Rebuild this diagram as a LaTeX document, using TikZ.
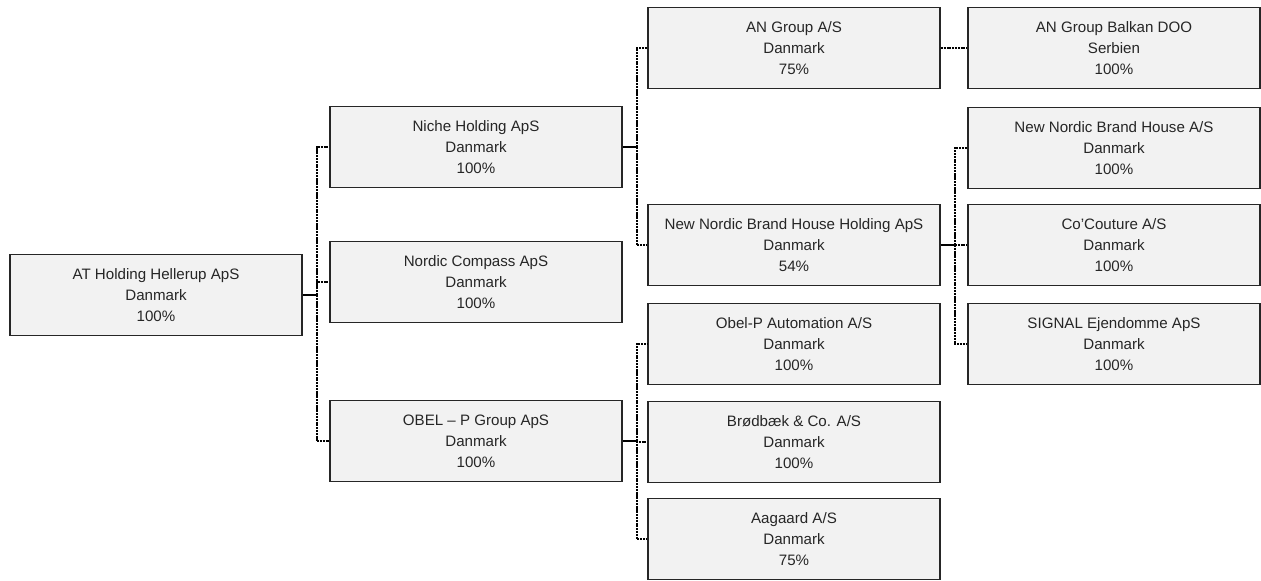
\documentclass[tikz,border=0pt]{standalone}
\usepackage{fontspec}
\setmainfont{Liberation Sans}
\usepackage{tikz}
\usetikzlibrary{positioning,calc}
\definecolor{boxfill}{HTML}{F2F2F2}
\tikzset{>=latex}
\tikzset{
  company/.style={draw=black!85,line width=1pt,fill=boxfill,minimum width=5.84cm,
    minimum height=1.62cm,align=center,text=black!85,font=\fontsize{8.6}{12}\selectfont},
  link/.style={line width=0.8pt,black},
  bus/.style={line width=0.8pt,black,dash pattern=on 1.2pt off 0.4pt}
}

\begin{document}
\begin{tikzpicture}
\useasboundingbox (0,0) rectangle (25.22,11.6);
\node[company] (root) at (3.12,5.70) {AT Holding Hellerup ApS\\Danmark\\100\%};
\node[company] (niche) at (9.52,8.66) {Niche Holding ApS\\Danmark\\100\%};
\node[company] (compass) at (9.52,5.96) {Nordic Compass ApS\\Danmark\\100\%};
\node[company] (obel) at (9.52,2.78) {OBEL -- P Group ApS\\Danmark\\100\%};
\node[company] (an) at (15.88,10.64) {AN Group A/S\\Danmark\\75\%};
\node[company] (nnbhh) at (15.88,6.70) {New Nordic Brand House Holding ApS\\Danmark\\54\%};
\node[company] (auto) at (15.88,4.72) {Obel-P Automation A/S\\Danmark\\100\%};
\node[company] (brod) at (15.88,2.76) {Brødbæk \& Co. A/S\\Danmark\\100\%};
\node[company] (aag) at (15.88,0.82) {Aagaard A/S\\Danmark\\75\%};
\node[company] (balkan) at (22.28,10.64) {AN Group Balkan DOO\\Serbien\\100\%};
\node[company] (nnbh) at (22.28,8.64) {New Nordic Brand House A/S\\Danmark\\100\%};
\node[company] (cocout) at (22.28,6.70) {Co’Couture A/S\\Danmark\\100\%};
\node[company] (signal) at (22.28,4.72) {SIGNAL Ejendomme ApS\\Danmark\\100\%};
% holding -> subsidiaries
\draw[link] (root.east) -- ++(0.28,0) coordinate (j1);
\foreach \kid in {niche,compass,obel} \draw[bus] (j1) |- (\kid.west);
\draw[link] (niche.east) -- ++(0.28,0) coordinate (j2);
\foreach \kid in {an,nnbhh} \draw[bus] (j2) |- (\kid.west);
\draw[link] (obel.east) -- ++(0.28,0) coordinate (j3);
\foreach \kid in {auto,brod,aag} \draw[bus] (j3) |- (\kid.west);
\draw[link] (nnbhh.east) -- ++(0.28,0) coordinate (j4);
\foreach \kid in {nnbh,cocout,signal} \draw[bus] (j4) |- (\kid.west);
\draw[bus] (an.east) -- (balkan.west);
\end{tikzpicture}
\end{document}
